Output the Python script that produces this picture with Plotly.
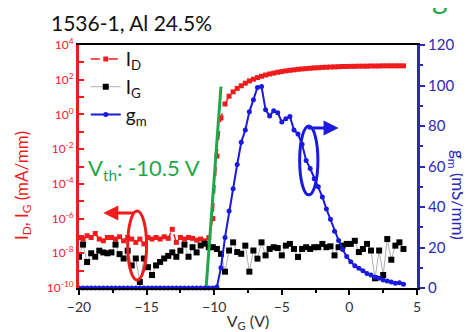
import plotly.graph_objects as go

# Gate voltage sweep (V)
vg = [-20.0, -19.7, -19.4, -19.1, -18.8, -18.5, -18.2, -17.9, -17.6, -17.3, -17.0, -16.7,
      -16.4, -16.1, -15.8, -15.5, -15.2, -14.9, -14.6, -14.3, -14.0, -13.7, -13.4, -13.1,
      -12.8, -12.5, -12.2, -11.9, -11.6, -11.3, -11.0, -10.7, -10.4, -10.1, -9.8, -9.5,
      -9.2, -8.9, -8.6, -8.3, -8.0, -7.7, -7.4, -7.1, -6.8, -6.5, -6.2, -5.9, -5.6, -5.3,
      -5.0, -4.7, -4.4, -4.1, -3.8, -3.5, -3.2, -2.9, -2.6, -2.3, -2.0, -1.7, -1.4, -1.1,
      -0.8, -0.5, -0.2, 0.1, 0.4, 0.7, 1.0, 1.3, 1.6, 1.9, 2.2, 2.5, 2.8, 3.1, 3.4, 3.7, 4.0]

# log10 of drain current I_D (mA/mm)
id_log10 = [-7.09, -7.18, -6.99, -7.09, -6.86, -7.18, -7.28, -7.09, -7.09, -7.18, -7.05, -7.28,
            -7.09, -7.18, -7.37, -7.18, -7.46, -7.09, -7.18, -7.09, -7.18, -7.05, -7.14, -6.62,
            -7.37, -7.09, -7.18, -7.09, -7.14, -7.24, -7.18, -7.28, -7.10,
            -6.0, -2.4, -0.2, 0.6, 1.05, 1.3, 1.5, 1.65, 1.8, 1.93, 2.03, 2.12, 2.2, 2.27, 2.33,
            2.38, 2.43, 2.47, 2.51, 2.54, 2.57, 2.6, 2.62, 2.64, 2.66, 2.68, 2.69, 2.71, 2.72,
            2.73, 2.74, 2.75, 2.76, 2.76, 2.77, 2.77, 2.78, 2.78, 2.78, 2.79, 2.79, 2.79,
            2.8, 2.8, 2.8, 2.8, 2.8, 2.8]

# log10 of gate current I_G (mA/mm)
ig_log10 = [-8.2, -7.5, -8.5, -8.0, -8.2, -7.85, -7.95, -8.0, -7.95, -7.5, -8.05, -8.3,
            -7.85, -8.7, -8.3, -9.65, -8.3, -8.8, -9.25, -8.7, -8.5, -8.3, -8.15, -7.95,
            -8.2, -7.85, -7.5, -8.2, -7.65, -7.95, -7.55, -7.45,
            -7.65, -7.65, -7.75, -8.03, -9.06, -7.84, -7.37, -7.93, -8.03, -7.56, -9.06, -7.84,
            -8.31, -7.37, -8.12, -7.75, -7.65, -7.7, -8.12, -7.56, -7.46, -7.75, -8.21, -7.75,
            -7.65, -7.75, -7.65, -7.65, -7.46, -7.65, -7.6, -8.12, -7.65, -7.56, -7.46, -7.46,
            -7.28, -7.93, -7.75, -7.46, -7.84, -9.44, -7.84, -9.25, -7.18, -8.37, -7.56,
            -7.37, -7.75]

# transconductance g_m (mS/mm)
gm = [0.0, 0.0, 0.0, 0.0, 0.0, 0.0, 0.0, 0.0, 0.0, 0.0, 0.0, 0.0, 0.0, 0.0, 0.0,
      0.0, 0.0, 0.0, 0.0, 0.0, 0.0, 0.0, 0.0, 0.0, 0.0, 0.0, 0.0, 0.0, 0.0, 0.0, 0.0, 0.0,
      0.0, 0.0,
      0.5, 10, 25, 38, 49, 61, 72, 78, 87, 93, 99, 99.5, 88, 85, 87.5, 86.5, 82, 83.6, 84.7,
      78, 76, 71, 63, 59, 54, 50, 45, 39, 34, 28, 23.5, 19, 15.5, 13, 11, 9.8, 8.5, 7.2,
      6.4, 5.3, 4.8, 4.0, 3.5, 3.0, 2.3, 2.6, 1.8]

# threshold extrapolation line
vth_x = [-10.6, -9.5]
vth_y = [1e-10, 40]

left_ticks = [-10, -9, -8, -7, -6, -5, -4, -3, -2, -1, 0, 1, 2, 3, 4]

id_vals = [10 ** e for e in id_log10]
ig_vals = [10 ** e for e in ig_log10]

RED = "#ee1c1c"
BLUE = "#1a1adf"
AXBLUE = "#2a2ab8"
GREEN = "#1fa84a"
FONT = "Lato"

fig = go.Figure()
fig.add_trace(go.Scatter(x=vg, y=id_vals, name="I<sub>D</sub>", mode="lines+markers",
                         line=dict(color=RED, width=1.5, dash="dash"),
                         marker=dict(symbol="square", size=5, color=RED)))
fig.add_trace(go.Scatter(x=vg, y=ig_vals, name="I<sub>G</sub>", mode="lines+markers",
                         line=dict(color="#b0b0b0", width=1),
                         marker=dict(symbol="square", size=6, color="black")))
fig.add_trace(go.Scatter(x=vg, y=gm, name="g<sub>m</sub>", mode="lines+markers", yaxis="y2",
                         line=dict(color=BLUE, width=2),
                         marker=dict(symbol="circle", size=5, color=BLUE), cliponaxis=False))
fig.add_trace(go.Scatter(x=vth_x, y=vth_y, mode="lines", showlegend=False,
                         line=dict(color=GREEN, width=3)))

fig.update_layout(
    width=471, height=332,
    margin=dict(l=71, r=62, t=37, b=47),
    paper_bgcolor="white", plot_bgcolor="white",
    font=dict(family=FONT, color="#222"),
    title=dict(text="1536-1, Al 24.5%", x=43 / 471, xanchor="left", y=1 - 16 / 332,
               yanchor="middle", font=dict(size=21, color="#111", family=FONT)),
    legend=dict(x=0.02, y=1.02, xanchor="left", yanchor="top", bgcolor="rgba(0,0,0,0)",
                font=dict(size=19, family=FONT, color="#111"), tracegroupgap=2),
    xaxis=dict(range=[-20, 5], dtick=5, tick0=-20, showgrid=False, zeroline=False,
               ticks="outside", ticklen=5, tickcolor="black", tickwidth=1.5,
               minor=dict(dtick=2.5, ticklen=3, tickcolor="black", ticks="outside"),
               showline=True, linecolor="black", linewidth=2, mirror=True,
               tickfont=dict(size=14, color="#333"),
               title=dict(text="V<sub>G</sub> (V)", font=dict(size=16, color="#333"), standoff=2)),
    yaxis=dict(type="log", range=[-10, 4], showgrid=False, zeroline=False,
               tickmode="array", tickvals=[10 ** e for e in left_ticks],
               ticktext=[("10<sup>%d</sup>" % e) if e % 2 == 0 else "" for e in left_ticks],
               ticks="inside", ticklen=5, tickcolor=RED, tickwidth=2,
               showline=True, linecolor=RED, linewidth=3,
               tickfont=dict(size=12, color=RED)),
    yaxis2=dict(overlaying="y", side="right", range=[0, 120], dtick=20, showgrid=False,
                zeroline=False, ticks="outside", ticklen=5, tickcolor=AXBLUE, tickwidth=2,
                minor=dict(dtick=10, ticklen=3, tickcolor=AXBLUE, ticks="outside"),
                showline=True, linecolor=AXBLUE, linewidth=3,
                tickfont=dict(size=15, color=AXBLUE)),
)

# y-axis titles
fig.add_annotation(text="I<sub>D</sub>, I<sub>G</sub> (mA/mm)", xref="paper", yref="paper",
                   x=(15 - 71) / 338, y=(285 - 180) / 248, textangle=-90, showarrow=False,
                   xanchor="center", yanchor="middle",
                   font=dict(size=17, color=RED, family=FONT))
fig.add_annotation(text="g<sub>m</sub> (mS/mm)", xref="paper", yref="paper",
                   x=(447 - 71) / 338, y=(285 - 190) / 248, textangle=90, showarrow=False,
                   xanchor="center", yanchor="middle", xshift=2,
                   font=dict(size=17, color=AXBLUE, family=FONT))

# Vth label
fig.add_annotation(text="V<sub>th</sub>: -10.5 V", xref="x", yref="y2", x=-19.5, y=59,
                   xanchor="left", yanchor="middle", showarrow=False,
                   font=dict(size=22, color=GREEN, family=FONT))

# partially visible green letter at the top edge
fig.add_annotation(text="g", xref="paper", yref="paper", x=(432 - 71) / 338,
                   y=(285 + 12) / 248, showarrow=False, xanchor="center", yanchor="middle",
                   font=dict(size=30, color=GREEN, family=FONT))

# ellipses marking curves
fig.add_shape(type="circle", xref="x", yref="y2", x0=-16.4, x1=-15.0, y0=4, y1=38,
              line=dict(color=RED, width=3))
fig.add_shape(type="circle", xref="x", yref="y2", x0=-3.68, x1=-2.33, y0=46, y1=80,
              line=dict(color=BLUE, width=3))

# arrows
fig.add_annotation(xref="x", yref="y2", axref="x", ayref="y2", x=-18.2, y=37, ax=-15.8, ay=37,
                   showarrow=True, arrowhead=2, arrowsize=1, arrowwidth=3, arrowcolor=RED, text="")
fig.add_annotation(xref="x", yref="y2", axref="x", ayref="y2", x=-0.8, y=79, ax=-3.2, ay=79,
                   showarrow=True, arrowhead=2, arrowsize=1, arrowwidth=3, arrowcolor=BLUE, text="")

fig.write_html("out.html")
